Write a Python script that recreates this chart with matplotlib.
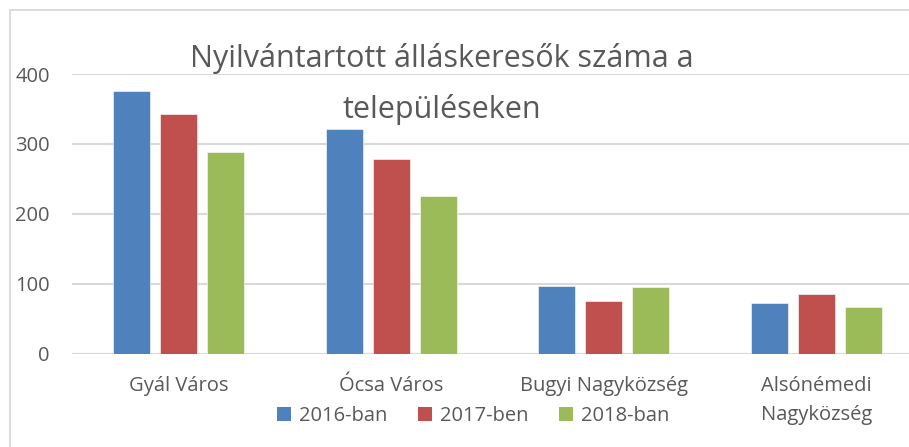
import matplotlib
matplotlib.use("Agg")
import matplotlib.pyplot as plt
from matplotlib.patches import Rectangle, Patch
import numpy as np

plt.rcParams['font.family'] = ['Open Sans', 'DejaVu Sans']

categories = ["Gyál Város", "Ócsa Város", "Bugyi Nagyközség", "Alsónémedi\nNagyközség"]
series_names = ["2016-ban", "2017-ben", "2018-ban"]
v2016 = [375, 321, 96, 72]
v2017 = [343, 278, 75, 85]
v2018 = [289, 226, 95, 66]
yticks = [0, 100, 200, 300, 400]
colors = ["#4f81bd", "#c0504d", "#9bbb59"]

W, H = 909, 447
fig = plt.figure(figsize=(W / 100, H / 100), dpi=100)

# chart border
fig.patches.append(Rectangle((10 / W, -0.5), 2, 1.5 - 10 / H, transform=fig.transFigure,
                             fill=False, edgecolor="#d9d9d9", linewidth=1.3))

left_px, right_px, top_px, bot_px = 72, 923, 74, 353.5
ax = fig.add_axes([left_px / W, (H - bot_px) / H, (right_px - left_px) / W, (bot_px - top_px) / H])
ax.set_facecolor("none")

x = np.arange(len(categories))
bw = 0.174
step = 0.221
for i, (vals, name) in enumerate(zip([v2016, v2017, v2018], series_names)):
    ax.bar(x + (i - 1) * step, vals, width=bw, color=colors[i], label=name, zorder=3,
           edgecolor="white", linewidth=0.4)

ax.set_xlim(-0.5, len(categories) - 0.5)
ax.set_ylim(0, 400)
ax.set_yticks(yticks)
ax.set_yticklabels([str(t) for t in yticks], fontsize=14.5, color="#595959")
ax.yaxis.grid(True, color="#d9d9d9", linewidth=1.5, zorder=0)
ax.set_axisbelow(True)
for s in ax.spines.values():
    s.set_visible(False)
ax.tick_params(axis="y", length=0, pad=16)
ax.tick_params(axis="x", length=0, pad=16)
ax.set_xticks(x)
ax.set_xticklabels(categories, fontsize=14.5, color="#595959", va="top", linespacing=1.6)

fig.text(442 / W, 1 - 84 / H, "Nyilvántartott álláskeresők száma a\ntelepüléseken",
         ha="center", va="center", fontsize=22, color="#595959", linespacing=1.8)

handles = [Patch(facecolor=c, label=n) for c, n in zip(colors, series_names)]
fig.legend(handles=handles, loc="center", bbox_to_anchor=(473 / W, 1 - 416 / H), ncol=3,
           frameon=False, fontsize=14.5, labelcolor="#595959", handlelength=0.7, handleheight=0.7,
           handletextpad=0.4, columnspacing=1.5)

fig.savefig("out.png", dpi=100)
